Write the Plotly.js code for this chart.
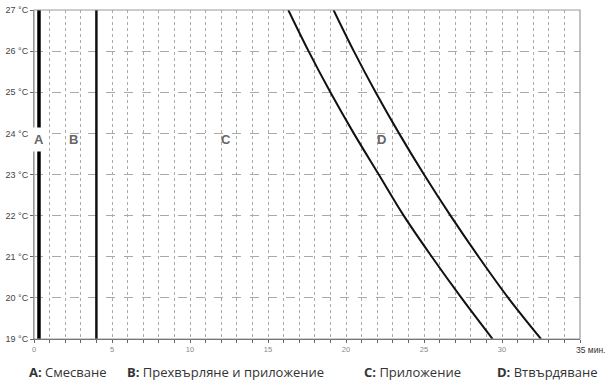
<!DOCTYPE html>
<html>
<head>
<meta charset="utf-8">
<script src="https://cdn.plot.ly/plotly-3.0.1.min.js"></script>
<style>
  body { margin: 0; background: #fff; }
  #plot { width: 608px; height: 382px; }
</style>
</head>
<body>
<div id="plot"></div>
<script>
/* temperature (°C) and the time (min) */
var temps = [27, 26, 25, 24, 23, 22, 21, 20, 19];
var curveLow = [16.3, 17.6, 19.0, 20.5, 22.1, 23.7, 25.5, 27.4, 29.4];
var curveHigh = [19.2, 20.5, 21.9, 23.4, 25.0, 26.7, 28.5, 30.4, 32.5];

/* vertical phase limits */
var mixEnd = 0.32;
var pourEnd = 4;

var yTicks = [19, 20, 21, 22, 23, 24, 25, 26, 27];
var yTickText = yTicks.map(function (t) { return t + " °C"; });
var xTicks = [0, 5, 10, 15, 20, 25, 30];

/* phase letters on the chart */
var phaseLetters = ["A", "B", "C", "D"];
var phaseX = [0.32, 2.5, 12.3, 22.3];
var phaseY = 23.84;

/* captions under the chart */
var legendKeys = ["A:", "B:", "C:", "D:"];
var legendNames = ["Смесване", "Прехвърляне и приложение", "Приложение", "Втвърдяване"];
var legendPos = [-0.013, 0.167, 0.601, 0.845];

var lineStyle = { color: "#111", width: 2 };

var data = [
  { x: [mixEnd, mixEnd], y: [19, 27], mode: "lines", line: { color: "#000", width: 3.5 } },
  { x: [pourEnd, pourEnd], y: [19, 27], mode: "lines", line: { color: "#111", width: 2.5 } },
  { x: curveLow, y: temps, mode: "lines", line: Object.assign({ shape: "spline", smoothing: 1 }, lineStyle) },
  { x: curveHigh, y: temps, mode: "lines", line: Object.assign({ shape: "spline", smoothing: 1 }, lineStyle) }
];

var annotations = [];
phaseLetters.forEach(function (l, i) {
  annotations.push({
    x: phaseX[i], y: phaseY, xref: "x", yref: "y", text: "<b>" + l + "</b>", showarrow: false,
    font: { family: "Liberation Sans, Arial", size: 13, color: "#666" },
    bgcolor: i === 0 ? "#fff" : "rgba(0,0,0,0)", borderpad: i === 0 ? 4 : 1
  });
});
legendKeys.forEach(function (k, i) {
  annotations.push({
    x: legendPos[i], y: 0, xref: "paper", yref: "paper", yshift: -33,
    xanchor: "left", yanchor: "middle", showarrow: false,
    text: "<b>" + k + "</b> " + legendNames[i],
    font: { family: "Open Sans", size: 13, color: "#333" }
  });
});
annotations.push({
  x: 35, y: 19, xref: "x", yref: "y", xanchor: "left", yanchor: "top", yshift: -4, xshift: -6,
  showarrow: false, text: "35 мин.",
  font: { family: "Liberation Sans, Arial", size: 8.5, color: "#333" }
});

var layout = {
  width: 608,
  height: 382,
  margin: { l: 34, r: 28, t: 10, b: 43 },
  paper_bgcolor: "#fff",
  plot_bgcolor: "#fff",
  showlegend: false,
  xaxis: {
    range: [0, 35],
    tickvals: xTicks,
    ticktext: xTicks.map(String),
    ticks: "outside",
    ticklen: 3,
    tickcolor: "#666",
    tickfont: { family: "Liberation Sans, Arial", size: 7.5, color: "#888" },
    showgrid: true,
    gridcolor: "#aaa",
    griddash: "dot",
    gridwidth: 1,
    minor: { dtick: 1, showgrid: true, gridcolor: "#aaa", griddash: "dot", ticks: "outside", ticklen: 3, tickcolor: "#666" },
    showline: true,
    linecolor: "#555",
    linewidth: 1.2,
    zeroline: false,
    fixedrange: true
  },
  yaxis: {
    range: [19, 27],
    tickvals: yTicks,
    ticktext: yTickText,
    ticks: "outside",
    ticklen: 3,
    tickcolor: "#666",
    tickfont: { family: "Liberation Sans, Arial", size: 9, color: "#444" },
    showgrid: true,
    gridcolor: "#aaa",
    griddash: "dash",
    gridwidth: 1,
    showline: true,
    linecolor: "#999",
    linewidth: 1,
    zeroline: false,
    fixedrange: true
  },
  shapes: [
    { type: "rect", xref: "paper", yref: "paper", x0: 0, x1: 1, y0: 0, y1: 1, line: { color: "#999", width: 1.2 } }
  ],
  annotations: annotations
};

Plotly.newPlot("plot", data, layout, { displayModeBar: false, staticPlot: true });
</script>
</body>
</html>
